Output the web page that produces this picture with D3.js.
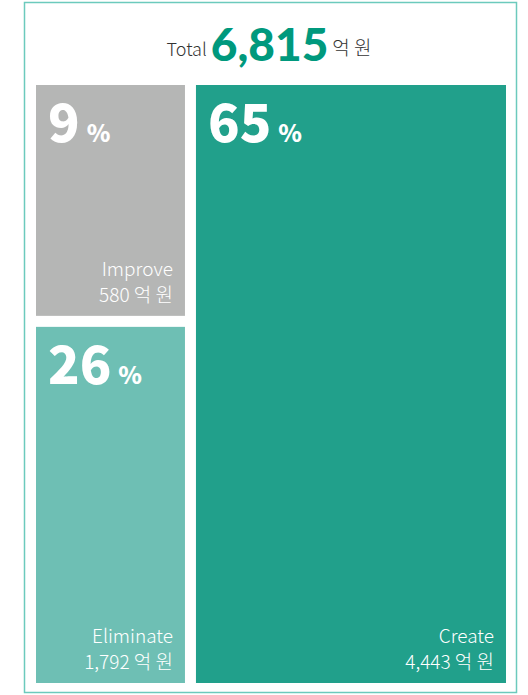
<!DOCTYPE html>
<html>
<head>
<meta charset="utf-8">
<script src="https://cdn.jsdelivr.net/npm/d3@7"></script>
<style>
  body { margin: 0; background: #fff; }
  text { font-family: "Noto Sans CJK KR", "Noto Sans", sans-serif; }
</style>
</head>
<body>
<div class="chart"></div>
<script>
// Data
var names = ["Improve", "Eliminate", "Create"];
var amounts = [580, 1792, 4443];          // 억 원
var groupOf = [0, 0, 1];                  // column each cell sits in
var colors = ["#b5b6b5", "#6ebfb4", "#21a08b"];
var unit = "억 원";

// Set Parms
var svgWidth = 528;
var svgHeight = 695;
var box = {x0: 36, y0: 85, x1: 506, y1: 683};

var svg = d3.select(".chart")
  .append("svg")
  .attr("width", svgWidth)
  .attr("height", svgHeight);

// outer frame
svg.append("rect")
  .attr("x", 24.5).attr("y", 2.5)
  .attr("width", 492).attr("height", 690)
  .attr("fill", "none")
  .attr("stroke", "#6ccabd")
  .attr("stroke-width", 1.5);

var total = d3.sum(amounts);
var fmt = d3.format(",");

// Title
var title = svg.append("text")
  .attr("x", 269)
  .attr("y", 56)
  .attr("text-anchor", "middle");
title.append("tspan")
  .attr("fill", "#333")
  .attr("font-size", 18)
  .attr("font-weight", 300)
  .text("Total");
title.append("tspan")
  .attr("dx", 4).attr("dy", 5)
  .attr("fill", "#00997d")
  .attr("font-family", "Lato, sans-serif")
  .attr("font-weight", 900)
  .attr("font-size", 46)
  .text(fmt(total));
title.append("tspan")
  .attr("dx", 4).attr("dy", -6)
  .attr("fill", "#333")
  .attr("font-size", 19)
  .attr("font-weight", 300)
  .text(unit);

// hierarchy: two columns, left one stacked
var cols = [[], []];
names.forEach(function(n, i) {
  cols[groupOf[i]].push({name: n, value: amounts[i], color: colors[i]});
});
var root = d3.hierarchy({children: cols.map(function(c) { return {children: c}; })})
  .sum(function(d) { return d.value || 0; });

// columns split side by side, cells stacked inside a column;
// sizes go through a pow scale so the small cell keeps room for its labels
function tile(parent, x0, y0, x1, y1) {
  var across = parent.depth === 0;
  var w = d3.scalePow().exponent(across ? 1.11 : 0.37);
  var weights = parent.children.map(function(c) { return w(c.value); });
  var pos = d3.scaleLinear()
    .domain([0, d3.sum(weights)])
    .range(across ? [x0, x1] : [y0, y1]);
  var acc = 0;
  parent.children.forEach(function(c, i) {
    var a = pos(acc), b = pos(acc += weights[i]);
    if (across) { c.x0 = a; c.x1 = b; c.y0 = y0; c.y1 = y1; }
    else { c.y0 = a; c.y1 = b; c.x0 = x0; c.x1 = x1; }
  });
}

d3.treemap()
  .tile(tile)
  .size([box.x1 - box.x0, box.y1 - box.y0])
  .paddingInner(11)(root);

var cells = svg.append("g")
  .attr("transform", "translate(" + box.x0 + "," + box.y0 + ")")
  .selectAll("g")
  .data(root.leaves())
  .enter()
  .append("g")
  .attr("transform", function(d) { return "translate(" + d.x0 + "," + d.y0 + ")"; });

cells.append("rect")
  .attr("width", function(d) { return d.x1 - d.x0; })
  .attr("height", function(d) { return d.y1 - d.y0; })
  .attr("fill", function(d) { return d.data.color; });

// percentage
var pct = cells.append("text")
  .attr("x", 12)
  .attr("y", 57)
  .attr("fill", "#fff")
  .attr("font-family", "Lato, sans-serif")
  .attr("font-weight", 900);
pct.append("tspan")
  .attr("font-size", 52)
  .text(function(d) { return Math.round(d.data.value / total * 100); });
pct.append("tspan")
  .attr("dx", 7)
  .attr("font-size", 24)
  .text("%");

// name + amount, bottom right
cells.append("text")
  .attr("x", function(d) { return d.x1 - d.x0 - 12; })
  .attr("y", function(d) { return d.y1 - d.y0 - 40; })
  .attr("text-anchor", "end")
  .attr("fill", "#fff")
  .attr("font-size", 19)
  .attr("font-weight", 300)
  .text(function(d) { return d.data.name; });

cells.append("text")
  .attr("x", function(d) { return d.x1 - d.x0 - 12; })
  .attr("y", function(d) { return d.y1 - d.y0 - 14; })
  .attr("text-anchor", "end")
  .attr("fill", "#fff")
  .attr("font-size", 19)
  .attr("font-weight", 300)
  .text(function(d) { return fmt(d.data.value) + " " + unit; });
</script>
</body>
</html>
